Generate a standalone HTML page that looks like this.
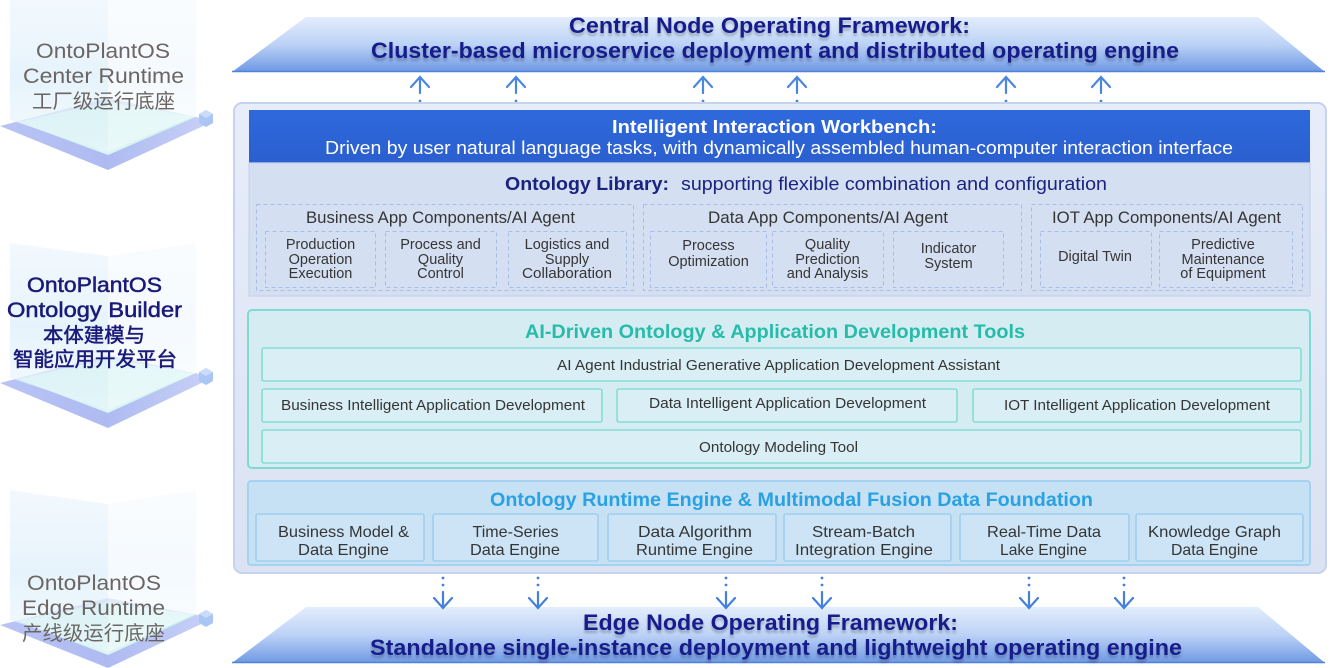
<!DOCTYPE html>
<html><head><meta charset="utf-8"><style>
html,body{margin:0;padding:0;background:#fff;}
svg{display:block}
text{font-family:"Liberation Sans","Noto Sans CJK SC",sans-serif;}
.b{font-weight:bold}
</style></head><body>
<svg width="1332" height="668" viewBox="0 0 1332 668" xmlns="http://www.w3.org/2000/svg">
<defs>
 <linearGradient id="trap" x1="0" y1="0" x2="0" y2="1">
  <stop offset="0" stop-color="#e3eefc"/>
  <stop offset="0.5" stop-color="#bcd2f6"/>
  <stop offset="1" stop-color="#6e98e4"/>
 </linearGradient>
 <linearGradient id="hdr" x1="0" y1="0" x2="0" y2="1">
  <stop offset="0" stop-color="#2e69dc"/>
  <stop offset="1" stop-color="#2b5fcf"/>
 </linearGradient>
 <linearGradient id="panel" x1="0" y1="0" x2="0" y2="1">
  <stop offset="0" stop-color="#e7edf9"/>
  <stop offset="1" stop-color="#dae2f3"/>
 </linearGradient>
 <linearGradient id="base" x1="0" y1="0" x2="1" y2="0">
  <stop offset="0" stop-color="#b9c4f4"/>
  <stop offset="0.5" stop-color="#aebbf1"/>
  <stop offset="1" stop-color="#c8d1f7"/>
 </linearGradient>
 <linearGradient id="teal" x1="0" y1="0" x2="0" y2="1">
  <stop offset="0" stop-color="#bff0e6"/>
  <stop offset="1" stop-color="#ddf5f5"/>
 </linearGradient>
 <linearGradient id="lface" x1="0" y1="0" x2="0" y2="1">
  <stop offset="0" stop-color="#e6f3fc" stop-opacity="0.5"/>
  <stop offset="0.5" stop-color="#e2f1fb" stop-opacity="0.85"/>
  <stop offset="1" stop-color="#eaf6fc" stop-opacity="0.6"/>
 </linearGradient>
 <linearGradient id="rface" x1="0" y1="0" x2="0" y2="1">
  <stop offset="0" stop-color="#f4f9fe" stop-opacity="0.5"/>
  <stop offset="0.5" stop-color="#f3f9fe" stop-opacity="0.85"/>
  <stop offset="1" stop-color="#f6fbfd" stop-opacity="0.55"/>
 </linearGradient>
 <filter id="refl" x="-5%" y="-20%" width="110%" height="160%">
  <feOffset in="SourceAlpha" dy="3" result="o"/>
  <feGaussianBlur in="o" stdDeviation="1.2" result="bl"/>
  <feComponentTransfer in="bl" result="sh"><feFuncA type="linear" slope="0.25"/></feComponentTransfer>
  <feMerge><feMergeNode in="sh"/><feMergeNode in="SourceGraphic"/></feMerge>
 </filter>
</defs>

<rect width="1332" height="668" fill="#ffffff"/>

<!-- LEFT ILLUSTRATIONS -->
<g>
 <polygon points="0,126 108,98 214,121 108,170" fill="url(#base)"/>
 <polygon points="18,122 108,102 196,117 108,155" fill="url(#teal)"/>
 <polygon points="10,0 108,0 108,152 10,120" fill="url(#lface)"/>
 <polygon points="108,0 196,0 196,116 108,152" fill="url(#rface)"/>
 <polygon points="199,114 206,110 213,114 213,123 206,127 199,123" fill="#a9c6f4"/>
 <polygon points="199,114 206,110 213,114 206,118" fill="#cadcf9"/>
</g>
<g>
 <polygon points="0,383 108,355 214,377 108,428" fill="url(#base)"/>
 <polygon points="18,379 108,359 196,373 108,413" fill="url(#teal)"/>
 <polygon points="10,243 108,256 108,410 10,378" fill="url(#lface)"/>
 <polygon points="108,256 196,243 196,373 108,410" fill="url(#rface)"/>
 <polygon points="199,372 206,368 213,372 213,381 206,385 199,381" fill="#a9c6f4"/>
 <polygon points="199,372 206,368 213,372 206,376" fill="#cadcf9"/>
</g>
<g>
 <polygon points="0,625 108,598 214,618 108,668" fill="url(#base)"/>
 <polygon points="18,621 108,602 196,615 108,655" fill="url(#teal)"/>
 <polygon points="10,490 108,504 108,652 10,620" fill="url(#lface)"/>
 <polygon points="108,504 196,490 196,614 108,652" fill="url(#rface)"/>
 <polygon points="199,614 206,610 213,614 213,623 206,627 199,623" fill="#a9c6f4"/>
 <polygon points="199,614 206,610 213,614 206,618" fill="#cadcf9"/>
</g>

<!-- left labels -->
<g fill="#6b6664" font-size="21" text-anchor="middle">
 <text x="103" y="58" textLength="134" lengthAdjust="spacingAndGlyphs">OntoPlantOS</text>
 <text x="103.5" y="83" textLength="161" lengthAdjust="spacingAndGlyphs">Center Runtime</text>
 <text x="103.5" y="108" font-size="20" textLength="143" lengthAdjust="spacingAndGlyphs">工厂级运行底座</text>
</g>
<g fill="#1a1a78" stroke="#1a1a78" stroke-width="0.5" font-size="21" text-anchor="middle">
 <text x="94.5" y="292" textLength="135" lengthAdjust="spacingAndGlyphs">OntoPlantOS</text>
 <text x="94.5" y="317" textLength="175" lengthAdjust="spacingAndGlyphs">Ontology Builder</text>
 <text x="94" y="342" font-size="20" textLength="102" lengthAdjust="spacingAndGlyphs">本体建模与</text>
 <text x="95" y="366" font-size="20" textLength="164" lengthAdjust="spacingAndGlyphs">智能应用开发平台</text>
</g>
<g fill="#6b6664" font-size="21" text-anchor="middle">
 <text x="94" y="590" textLength="134" lengthAdjust="spacingAndGlyphs">OntoPlantOS</text>
 <text x="93.5" y="615" textLength="143" lengthAdjust="spacingAndGlyphs">Edge Runtime</text>
 <text x="93.5" y="640" font-size="20" textLength="143" lengthAdjust="spacingAndGlyphs">产线级运行底座</text>
</g>

<!-- TOP TRAPEZOID -->
<polygon points="306,17 1258,17 1325,72 232,72" fill="url(#trap)"/>
<line x1="232" y1="71.5" x2="1325" y2="71.5" stroke="#4f82d8" stroke-width="1.5"/>
<g fill="#161c8c" text-anchor="middle" font-size="22" filter="url(#refl)">
 <text x="769.5" y="33" class="b" textLength="401" lengthAdjust="spacingAndGlyphs">Central Node Operating Framework:</text>
 <text x="775" y="58" class="b" textLength="808" lengthAdjust="spacingAndGlyphs">Cluster-based microservice deployment and distributed operating engine</text>
</g>

<!-- UP ARROWS -->
<g stroke="#4b86df" stroke-width="2.2" fill="none" stroke-linecap="round">
 <path d="M411,87 L420,77 L429,87 M420,78 L420,93"/>
 <path d="M507,87 L516,77 L525,87 M516,78 L516,93"/>
 <path d="M694,87 L703,77 L712,87 M703,78 L703,93"/>
 <path d="M788,87 L797,77 L806,87 M797,78 L797,93"/>
 <path d="M997,87 L1006,77 L1015,87 M1006,78 L1006,93"/>
 <path d="M1092,87 L1101,77 L1110,87 M1101,78 L1101,93"/>
</g>
<g fill="#4b86df">
 <circle cx="420" cy="101" r="1.4"/><circle cx="420" cy="108" r="1.4"/>
 <circle cx="516" cy="101" r="1.4"/><circle cx="516" cy="108" r="1.4"/>
 <circle cx="703" cy="101" r="1.4"/><circle cx="703" cy="108" r="1.4"/>
 <circle cx="797" cy="101" r="1.4"/><circle cx="797" cy="108" r="1.4"/>
 <circle cx="1006" cy="101" r="1.4"/><circle cx="1006" cy="108" r="1.4"/>
 <circle cx="1101" cy="101" r="1.4"/><circle cx="1101" cy="108" r="1.4"/>
</g>

<!-- MAIN PANEL -->
<rect x="234" y="103" width="1092" height="470" rx="8" fill="url(#panel)" stroke="#c6d3ee" stroke-width="2"/>

<!-- Header -->
<rect x="249" y="110" width="1061" height="53" fill="url(#hdr)"/>
<line x1="249" y1="162.5" x2="1310" y2="162.5" stroke="#5b8ae0" stroke-width="1"/>
<text x="774.5" y="133" fill="#fff" class="b" font-size="18.5" text-anchor="middle" textLength="325" lengthAdjust="spacingAndGlyphs">Intelligent Interaction Workbench:</text>
<text x="779" y="154" fill="#fff" font-size="18.5" text-anchor="middle" textLength="908" lengthAdjust="spacingAndGlyphs">Driven by user natural language tasks, with dynamically assembled human-computer interaction interface</text>

<!-- Ontology Library -->
<rect x="249" y="163" width="1061" height="133" fill="#d5dff2" stroke="#c2cfeb" stroke-width="1"/>
<text x="587" y="190" fill="#1a237e" class="b" font-size="18.5" text-anchor="middle" textLength="164" lengthAdjust="spacingAndGlyphs">Ontology Library:</text>
<text x="894" y="190" fill="#1a237e" font-size="18" text-anchor="middle" textLength="426" lengthAdjust="spacingAndGlyphs">supporting flexible combination and configuration</text>

<g fill="none" stroke="#a9bce8" stroke-width="1" stroke-dasharray="4,3">
 <rect x="256.5" y="204.5" width="377" height="86"/>
 <rect x="643.5" y="204.5" width="378" height="86"/>
 <rect x="1031.5" y="204.5" width="271" height="86"/>
 <rect x="265.5" y="231.5" width="110" height="56"/>
 <rect x="385.5" y="231.5" width="111" height="56"/>
 <rect x="508.5" y="231.5" width="118" height="56"/>
 <rect x="650.5" y="231.5" width="116" height="56"/>
 <rect x="772.5" y="231.5" width="111" height="56"/>
 <rect x="893.5" y="231.5" width="110" height="56"/>
 <rect x="1040.5" y="231.5" width="111" height="56"/>
 <rect x="1159.5" y="231.5" width="133" height="56"/>
</g>
<g fill="#353535" font-size="16.5" text-anchor="middle">
 <text x="440.5" y="223" textLength="269" lengthAdjust="spacingAndGlyphs">Business App Components/AI Agent</text>
 <text x="828" y="223" textLength="240" lengthAdjust="spacingAndGlyphs">Data App Components/AI Agent</text>
 <text x="1166.5" y="223" textLength="229" lengthAdjust="spacingAndGlyphs">IOT App Components/AI Agent</text>
</g>
<g fill="#353535" font-size="14.5" text-anchor="middle">
 <text x="320.5" y="249">Production</text>
 <text x="320.5" y="264">Operation</text>
 <text x="320.5" y="278">Execution</text>
 <text x="440.5" y="249">Process and</text>
 <text x="440.5" y="264">Quality</text>
 <text x="440.5" y="278">Control</text>
 <text x="567" y="249">Logistics and</text>
 <text x="567" y="264">Supply</text>
 <text x="567" y="278" textLength="90" lengthAdjust="spacingAndGlyphs">Collaboration</text>
 <text x="708.5" y="250">Process</text>
 <text x="708.5" y="266">Optimization</text>
 <text x="827.5" y="249">Quality</text>
 <text x="827.5" y="264">Prediction</text>
 <text x="827.5" y="278">and Analysis</text>
 <text x="948.5" y="253">Indicator</text>
 <text x="948.5" y="268">System</text>
 <text x="1095" y="261">Digital Twin</text>
 <text x="1223" y="249">Predictive</text>
 <text x="1223" y="264">Maintenance</text>
 <text x="1223" y="278">of Equipment</text>
</g>

<!-- AI-Driven tools -->
<rect x="248" y="310" width="1062" height="158" rx="4" fill="#d5ecf2" stroke="#7fdad1" stroke-width="2"/>
<text x="775" y="338" fill="#27bca9" class="b" font-size="19.5" text-anchor="middle" textLength="500" lengthAdjust="spacingAndGlyphs">AI-Driven Ontology &amp; Application Development Tools</text>
<g fill="#d9eff5" stroke="#86dcd4" stroke-width="1.6">
 <rect x="262" y="348" width="1039" height="33" rx="2"/>
 <rect x="262" y="389" width="340" height="33" rx="2"/>
 <rect x="617" y="389" width="340" height="33" rx="2"/>
 <rect x="973" y="389" width="328" height="33" rx="2"/>
 <rect x="262" y="430" width="1039" height="33" rx="2"/>
</g>
<g fill="#353535" font-size="14.5" text-anchor="middle">
 <text x="778.5" y="370" textLength="443" lengthAdjust="spacingAndGlyphs">AI Agent Industrial Generative Application Development Assistant</text>
 <text x="433" y="410" textLength="304" lengthAdjust="spacingAndGlyphs">Business Intelligent Application Development</text>
 <text x="787.5" y="408" textLength="277" lengthAdjust="spacingAndGlyphs">Data Intelligent Application Development</text>
 <text x="1137" y="410" textLength="266" lengthAdjust="spacingAndGlyphs">IOT Intelligent Application Development</text>
 <text x="778.5" y="452" textLength="159" lengthAdjust="spacingAndGlyphs">Ontology Modeling Tool</text>
</g>

<!-- Runtime engine -->
<rect x="248" y="481" width="1062" height="84" rx="3" fill="#c7e1f4" stroke="#a4d2f0" stroke-width="2"/>
<text x="791.5" y="506" fill="#29a1e2" class="b" font-size="19.5" text-anchor="middle" textLength="603" lengthAdjust="spacingAndGlyphs">Ontology Runtime Engine &amp; Multimodal Fusion Data Foundation</text>
<g fill="#cce4f5" stroke="#9fcfef" stroke-width="1.6">
 <rect x="256" y="514" width="168" height="47" rx="2"/>
 <rect x="433" y="514" width="165" height="47" rx="2"/>
 <rect x="608" y="514" width="168" height="47" rx="2"/>
 <rect x="784" y="514" width="167" height="47" rx="2"/>
 <rect x="960" y="514" width="169" height="47" rx="2"/>
 <rect x="1136" y="514" width="167" height="47" rx="2"/>
</g>
<g fill="#353535" font-size="16" text-anchor="middle">
 <text x="343.5" y="537" textLength="131" lengthAdjust="spacingAndGlyphs">Business Model &amp;</text>
 <text x="343.5" y="555" textLength="91" lengthAdjust="spacingAndGlyphs">Data Engine</text>
 <text x="515.5" y="537" textLength="86" lengthAdjust="spacingAndGlyphs">Time-Series</text>
 <text x="515" y="555" textLength="90" lengthAdjust="spacingAndGlyphs">Data Engine</text>
 <text x="695" y="537" textLength="114" lengthAdjust="spacingAndGlyphs">Data Algorithm</text>
 <text x="694.5" y="555" textLength="117" lengthAdjust="spacingAndGlyphs">Runtime Engine</text>
 <text x="863.5" y="537" textLength="103" lengthAdjust="spacingAndGlyphs">Stream-Batch</text>
 <text x="864" y="555" textLength="138" lengthAdjust="spacingAndGlyphs">Integration Engine</text>
 <text x="1044" y="537" textLength="114" lengthAdjust="spacingAndGlyphs">Real-Time Data</text>
 <text x="1043.5" y="555" textLength="87" lengthAdjust="spacingAndGlyphs">Lake Engine</text>
 <text x="1214.5" y="537" textLength="133" lengthAdjust="spacingAndGlyphs">Knowledge Graph</text>
 <text x="1214.5" y="555" textLength="87" lengthAdjust="spacingAndGlyphs">Data Engine</text>
</g>

<!-- DOWN ARROWS -->
<g fill="#4580dc">
 <circle cx="443" cy="578" r="1.4"/><circle cx="443" cy="585" r="1.4"/>
 <circle cx="538" cy="578" r="1.4"/><circle cx="538" cy="585" r="1.4"/>
 <circle cx="726" cy="578" r="1.4"/><circle cx="726" cy="585" r="1.4"/>
 <circle cx="822" cy="578" r="1.4"/><circle cx="822" cy="585" r="1.4"/>
 <circle cx="1029" cy="578" r="1.4"/><circle cx="1029" cy="585" r="1.4"/>
 <circle cx="1124" cy="578" r="1.4"/><circle cx="1124" cy="585" r="1.4"/>
</g>

<!-- BOTTOM TRAPEZOID -->
<polygon points="306,607 1258,607 1325,663 232,663" fill="url(#trap)"/>
<line x1="232" y1="662.5" x2="1325" y2="662.5" stroke="#4f82d8" stroke-width="1.5"/>

<g stroke="#4580dc" stroke-width="2.2" fill="none" stroke-linecap="round">
 <path d="M434,598 L443,608 L452,598 M443,592 L443,607"/>
 <path d="M529,598 L538,608 L547,598 M538,592 L538,607"/>
 <path d="M717,598 L726,608 L735,598 M726,592 L726,607"/>
 <path d="M813,598 L822,608 L831,598 M822,592 L822,607"/>
 <path d="M1020,598 L1029,608 L1038,598 M1029,592 L1029,607"/>
 <path d="M1115,598 L1124,608 L1133,598 M1124,592 L1124,607"/>
</g>

<g fill="#161c8c" text-anchor="middle" font-size="22" filter="url(#refl)">
 <text x="770.5" y="630" class="b" textLength="375" lengthAdjust="spacingAndGlyphs">Edge Node Operating Framework:</text>
 <text x="776" y="655" class="b" textLength="812" lengthAdjust="spacingAndGlyphs">Standalone single-instance deployment and lightweight operating engine</text>
</g>
</svg>
</body></html>
